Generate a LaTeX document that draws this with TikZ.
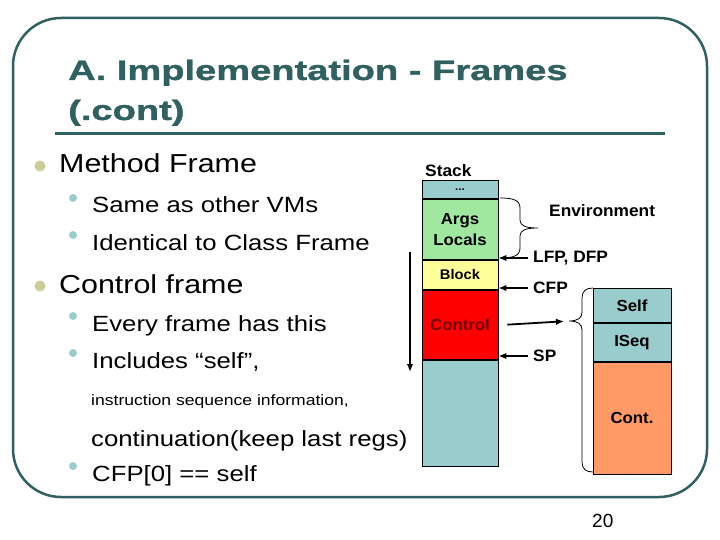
\documentclass[tikz,border=0pt]{standalone}
\usepackage{fontspec}
\setmainfont{Liberation Sans}
\newfontfamily\bodyfont[FakeStretch=1.17]{Liberation Sans}
\newfontfamily\titlefont[FakeStretch=1.36,BoldFeatures={FakeBold=1.2}]{Liberation Sans}
\newfontfamily\labelfont[FakeStretch=1.05]{Liberation Sans}
\usetikzlibrary{arrows.meta}
\definecolor{slideteal}{RGB}{49,96,96}
\definecolor{olivedot}{RGB}{204,204,153}
\definecolor{tealdot}{RGB}{153,204,204}
\definecolor{stackteal}{RGB}{153,204,204}
\definecolor{argsgreen}{RGB}{160,232,160}
\definecolor{blockyellow}{RGB}{255,255,153}
\definecolor{ctrlred}{RGB}{255,0,0}
\definecolor{ctrltext}{RGB}{110,0,0}
\definecolor{contorange}{RGB}{255,153,102}
\begin{document}
\begin{tikzpicture}[x=1pt,y=-1pt,>={Latex[length=8,width=6.5]}]
  \tikzstyle{cell}=[draw,line width=0.9,inner sep=0,minimum width=76,anchor=north,align=center,font=\labelfont\bfseries\fontsize{16}{21}\selectfont]
  \tikzstyle{txt}=[anchor=base west,inner sep=0]
  \tikzstyle{mainitem}=[txt,font=\bodyfont\fontsize{26}{30}\selectfont]
  \tikzstyle{subitem}=[txt,font=\bodyfont\fontsize{22}{26}\selectfont]
  \tikzstyle{lbl}=[anchor=west,inner sep=0,font=\labelfont\bfseries\fontsize{16.5}{19}\selectfont]
  \tikzstyle{ptr}=[->,line width=1.8]
  \useasboundingbox (0,0) rectangle (720,540);
  \draw[slideteal,line width=2.5,rounded corners=48] (13,18) rectangle (707,497);
  \node[txt,text=slideteal,font=\titlefont\bfseries\fontsize{28}{34}\selectfont] (title) at (68,80) {A. Implementation - Frames};
  \node[txt,text=slideteal,font=\titlefont\bfseries\fontsize{28}{34}\selectfont] (titlecont) at (68,120) {(.cont)};
  \draw[slideteal,line width=3] (55,134) -- (665,134);
  \fill[olivedot] (40,166) circle (5.5);
  \fill[olivedot] (40,286) circle (5.5);
  \foreach \y in {198,235,316,353,466}
    \fill[tealdot] (73,\y) circle (4);
  \node[mainitem] (mframe) at (59,173) {Method Frame};
  \node[subitem] (same) at (92,213) {Same as other VMs};
  \node[subitem] (ident) at (92,250) {Identical to Class Frame};
  \node[mainitem] (cframe) at (59,293) {Control frame};
  \node[subitem] (every) at (92,331) {Every frame has this};
  \node[subitem] (incl) at (92,368) {Includes “self”,};
  \node[txt,font=\bodyfont\fontsize{15}{18}\selectfont] (iseqinfo) at (91,405) {instruction sequence information,};
  \node[subitem] (contin) at (91,446) {continuation(keep last regs)};
  \node[subitem] (cfpself) at (92,481) {CFP[0] == self};
  \node[lbl] (stacklbl) at (425,171) {Stack};
  \node[cell,fill=stackteal,minimum height=18,font=\labelfont\bfseries\fontsize{11}{12}\selectfont] (dots) at (460,180) {...};
  \node[cell,fill=argsgreen,minimum height=60] (args) at (dots.south) {Args\\Locals};
  \node[cell,fill=blockyellow,minimum height=29,font=\labelfont\bfseries\fontsize{14}{16}\selectfont] (block) at (args.south) {Block};
  \node[cell,fill=ctrlred,minimum height=69,text=ctrltext] (ctrl) at (block.south) {Control};
  \node[cell,fill=stackteal,minimum height=106] (rest) at (ctrl.south) {};
  \node[cell,fill=stackteal,minimum width=78,minimum height=34] (self) at (632,288) {Self};
  \node[cell,fill=stackteal,minimum width=78,minimum height=38] (iseq) at (self.south) {ISeq};
  \node[cell,fill=contorange,minimum width=78,minimum height=112] (cont) at (iseq.south) {Cont.};
  \node[lbl] (env) at (549,211) {Environment};
  \node[lbl] (lfp) at (533,258) {LFP, DFP};
  \node[lbl] (cfp) at (533,288) {CFP};
  \node[lbl] (sp) at (533,356) {SP};
  \draw[ptr,shorten <=5] (lfp.west) -- (lfp.west -| args.east);
  \draw[ptr,shorten <=5] (cfp.west) -- (cfp.west -| block.east);
  \draw[ptr,shorten <=5] (sp.west) -- (sp.west -| ctrl.east);
  \draw[line width=0.8] (500,198) .. controls (513,198) and (520,200) .. (520,208) -- (520,220)
    .. controls (520,226) and (526,228) .. (538,228) .. controls (526,228) and (520,230) .. (520,236)
    -- (520,248) .. controls (520,256) and (513,258) .. (500,258);
  \coordinate (selftip) at (569,321);
  \draw[line width=0.8] (593,288) .. controls (586,288) and (582,291) .. (582,298) -- (582,312)
    .. controls (582,318) and (578,321) .. (selftip) .. controls (578,321) and (582,324) .. (582,330)
    -- (582,462) .. controls (582,469) and (586,472) .. (593,472);
  \draw[ptr,shorten >=5] ([xshift=9]ctrl.east) -- (selftip);
  \coordinate (growtop) at (410,252);
  \coordinate (growbot) at (410,372);
  \draw[ptr] (growtop) -- (growbot);
  \node[txt,font=\fontsize{19}{22}\selectfont] (pageno) at (592,527) {20};
\end{tikzpicture}
\end{document}
